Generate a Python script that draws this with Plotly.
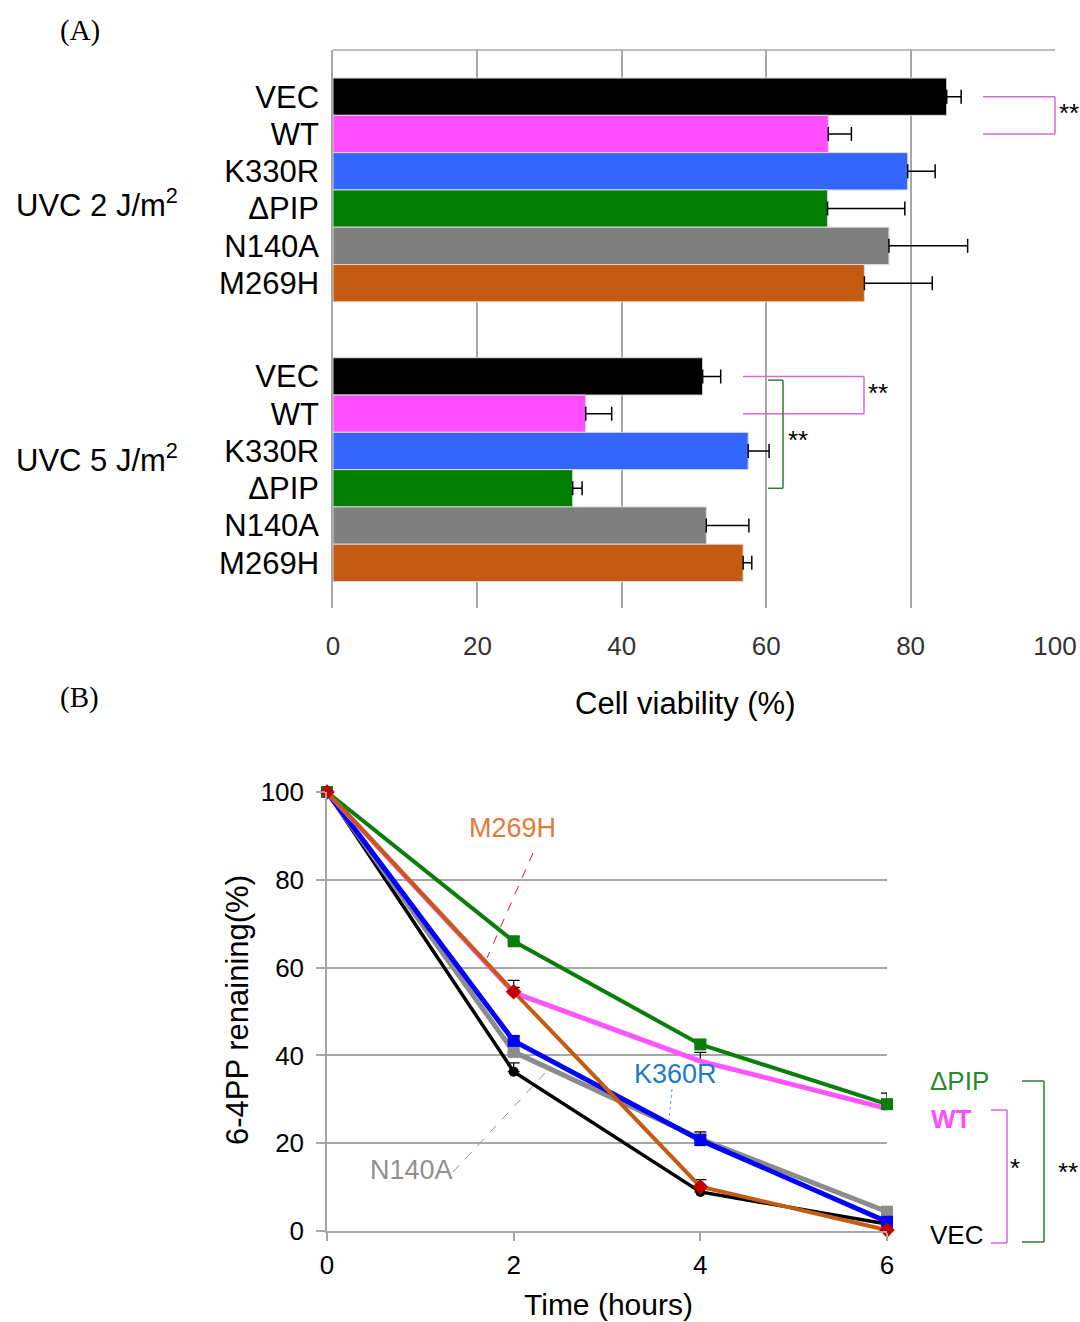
import plotly.graph_objects as go

# ---------------- data ----------------
variants = ["VEC", "WT", "K330R", "ΔPIP", "N140A", "M269H"]
doses = ["UVC 2 J/m<sup>2</sup>", "UVC 5 J/m<sup>2</sup>"]
viab_2J = [85.0, 68.6, 79.6, 68.5, 77.0, 73.6]
err_2J = [2.0, 3.2, 3.8, 10.7, 10.9, 9.4]
viab_5J = [51.2, 35.0, 57.5, 33.2, 51.7, 56.8]
err_5J = [2.5, 3.6, 2.9, 1.3, 5.9, 1.2]
bar_colors = ["#000000", "#FF4DFF", "#3366FF", "#007F00", "#7F7F7F", "#C55A11"]
x_ticks_A = [0, 20, 40, 60, 80, 100]

time_h = [0, 2, 4, 6]
remain = {
    "VEC":   [100, 36.3, 8.9, 1.6],
    "N140A": [100, 40.8, 21.0, 4.4],
    "K330R": [100, 43.3, 20.7, 2.1],
    "WT":    [100, 54.3, 38.7, 27.9],
    "ΔPIP":  [100, 66.0, 42.5, 28.9],
    "M269H": [100, 54.5, 10.1, 0.2],
}
remain_err = {
    "VEC":   [0, 2.0, 0.8, 0.5],
    "N140A": [0, 1.5, 1.0, 0.8],
    "K330R": [0, 1.0, 1.9, 0.5],
    "WT":    [0, 2.8, 2.0, 1.0],
    "ΔPIP":  [0, 1.0, 1.0, 2.5],
    "M269H": [0, 1.0, 1.6, 0.3],
}
line_style = {
    "VEC":   dict(color="#000000", width=3.5, symbol="circle", size=10, mcolor="#000000"),
    "N140A": dict(color="#8C8C8C", width=5, symbol="square", size=12, mcolor="#8C8C8C"),
    "K330R": dict(color="#0000FF", width=5, symbol="square", size=12, mcolor="#0000FF"),
    "WT":    dict(color="#FF55FF", width=5, symbol="circle", size=1, mcolor="#FF55FF"),
    "ΔPIP":  dict(color="#0A7D0A", width=4, symbol="square", size=12, mcolor="#0A7D0A"),
    "M269H": dict(color="#C55A11", width=4, symbol="diamond", size=12, mcolor="#C00000"),
}
y_ticks_B = [0, 20, 40, 60, 80, 100]
x_ticks_B = [0, 2, 4, 6]

W, H = 1080, 1322
def PX(x):
    return x / W
def PY(y):
    return 1 - y / H

FONT = "Liberation Sans, Arial, sans-serif"
GRID = "#A6A6A6"

fig = go.Figure()

# ---------------- panel A ----------------
group_gap = 7.5
for i, name in enumerate(variants):
    fig.add_trace(go.Bar(
        orientation="h",
        y=[i, i + group_gap],
        x=[viab_2J[i], viab_5J[i]],
        width=1,
        marker=dict(color=bar_colors[i], line=dict(color="#D9D9D9", width=1)),
        error_x=dict(type="data", symmetric=False, array=[err_2J[i], err_5J[i]],
                     arrayminus=[0, 0], color="#000000", thickness=1.5, width=7),
        xaxis="x", yaxis="y", showlegend=False, name=name,
    ))

tickpos = [i for i in range(6)] + [i + group_gap for i in range(6)]
ticktxt = variants + variants

# ---------------- panel B ----------------
for name in ["VEC", "N140A", "K330R", "WT", "ΔPIP", "M269H"]:
    st = line_style[name]
    fig.add_trace(go.Scatter(
        x=time_h, y=remain[name], mode="lines+markers",
        line=dict(color=st["color"], width=st["width"]),
        marker=dict(symbol=st["symbol"], size=st["size"], color=st["mcolor"]),
        error_y=dict(type="data", symmetric=False, array=remain_err[name],
                     arrayminus=[0, 0, 0, 0], color="#000000", thickness=1.2, width=6),
        cliponaxis=False, xaxis="x2", yaxis="y2", showlegend=False, name=name,
    ))

fig.update_layout(
    width=W, height=H,
    margin=dict(l=0, r=0, t=0, b=0, pad=0, autoexpand=False),
    paper_bgcolor="white", plot_bgcolor="white",
    barmode="overlay",
    font=dict(family=FONT, color="#000000"),
    xaxis=dict(domain=[PX(333), PX(1055)], range=[0, 100], anchor="y",
               tickvals=x_ticks_A, showgrid=True, gridcolor=GRID, gridwidth=1.5,
               zeroline=False, showline=False, ticks="", automargin=False,
               tickfont=dict(size=26, color="#333333"), ticklabelstandoff=20),
    yaxis=dict(domain=[PY(608), PY(50)], range=[13.71, -1.252], anchor="x",
               tickvals=tickpos, ticktext=ticktxt, showgrid=False, zeroline=False,
               showline=True, linecolor=GRID, linewidth=1.5, ticks="", automargin=False,
               tickfont=dict(size=31, color="#000000"), ticklabelstandoff=6),
    xaxis2=dict(domain=[PX(327), PX(887)], range=[0, 6], anchor="y2",
                tickvals=x_ticks_B, showgrid=False, zeroline=False,
                showline=True, linecolor=GRID, linewidth=1.5, automargin=False,
                ticks="outside", ticklen=8, tickcolor=GRID, tickwidth=1.5,
                tickfont=dict(size=26, color="#000000"), ticklabelstandoff=2),
    yaxis2=dict(domain=[PY(1231), PY(792)], range=[0, 100], anchor="x2",
                tickvals=y_ticks_B, showgrid=True, gridcolor=GRID, gridwidth=1.5,
                zeroline=False, showline=True, linecolor=GRID, linewidth=1.5, automargin=False,
                ticks="outside", ticklen=9, tickcolor=GRID, tickwidth=1.5,
                tickfont=dict(size=26, color="#000000"), ticklabelstandoff=7),
)

shapes = []
annots = []

def note(text, x, y, size=26, color="#000000", xanchor="center", yref="paper", **kw):
    annots.append(dict(text=text, xref="paper", yref=yref, x=x, y=y, xanchor=xanchor,
                       yanchor="middle", showarrow=False, font=dict(size=size, color=color, **kw)))

# frame top of panel A
shapes.append(dict(type="line", xref="paper", yref="paper", x0=PX(333), x1=PX(1055),
                   y0=PY(50), y1=PY(50), line=dict(color=GRID, width=1.5)))

# group labels
note(doses[0], PX(14), 2.85, size=31, xanchor="left", yref="y")
note(doses[1], PX(14), 9.69, size=31, xanchor="left", yref="y")

# panel A brackets
MAG = "#D36BD3"
GRN = "#2E7D32"
def bracket(x0, x1, ya, yb, color, yref="y", xref="paper"):
    shapes.append(dict(type="line", xref=xref, yref=yref, x0=x0, x1=x1, y0=ya, y1=ya,
                       line=dict(color=color, width=1.5)))
    shapes.append(dict(type="line", xref=xref, yref=yref, x0=x0, x1=x1, y0=yb, y1=yb,
                       line=dict(color=color, width=1.5)))
    shapes.append(dict(type="line", xref=xref, yref=yref, x0=x1, x1=x1, y0=ya, y1=yb,
                       line=dict(color=color, width=1.5)))

bracket(PX(983), PX(1055), 0, 1, MAG)
bracket(PX(743), PX(864), 7.5, 8.5, MAG)
bracket(PX(768), PX(783), 7.6, 10.5, GRN)
note("**", PX(1057), 0.45, xanchor="left", yref="y")
note("**", PX(866), 7.95, xanchor="left", yref="y")
note("**", PX(786), 9.2, xanchor="left", yref="y")

# axis titles
note("Cell viability (%)", PX(685), PY(703), size=31)
note("Time (hours)", PX(608), PY(1304), size=30)
annots.append(dict(text="6-4PP renaining(%)", xref="paper", yref="paper", x=PX(237), y=PY(1010),
                   xanchor="center", yanchor="middle", textangle=-90, showarrow=False,
                   font=dict(size=31)))

# panel letters
SERIF = "Liberation Serif, Times New Roman, serif"
note("(A)", PX(58), PY(30), size=29, xanchor="left", family=SERIF)
note("(B)", PX(58), PY(697), size=29, xanchor="left", family=SERIF)

# panel B inline labels + leaders
note("M269H", PX(512), PY(828), size=27, color="#E07B39")
shapes.append(dict(type="line", xref="paper", yref="paper", x0=PX(533), y0=PY(853),
                   x1=PX(487), y1=PY(958), line=dict(color="#D02020", width=1, dash="dash")))
note("K360R", PX(675), PY(1074), size=27, color="#1F7BC8")
shapes.append(dict(type="line", xref="paper", yref="paper", x0=PX(672), y0=PY(1089),
                   x1=PX(669), y1=PY(1120), line=dict(color="#5B9BD5", width=1, dash="dot")))
note("N140A", PX(411), PY(1170), size=27, color="#909090")
shapes.append(dict(type="line", xref="paper", yref="paper", x0=PX(453), y0=PY(1172),
                   x1=PX(547), y1=PY(1071), line=dict(color="#909090", width=1, dash="dash")))

# right-side labels and brackets
note("ΔPIP", PX(928), PY(1081), color="#2A8A2A", xanchor="left")
note("<b>WT</b>", PX(929), PY(1119), color="#FF4DFF", xanchor="left")
note("VEC", PX(928), PY(1235), xanchor="left")
bracket(PX(1022), PX(1044), PY(1081), PY(1242), GRN, yref="paper")
bracket(PX(991), PX(1007), PY(1110), PY(1243), "#E060E0", yref="paper")
note("*", PX(1008), PY(1168), xanchor="left")
note("**", PX(1056), PY(1172), xanchor="left")

fig.update_layout(shapes=shapes, annotations=annots)
fig.write_html("out.html", config={"displayModeBar": False},
               post_script="document.body.style.margin='0';document.body.style.overflow='hidden';")
